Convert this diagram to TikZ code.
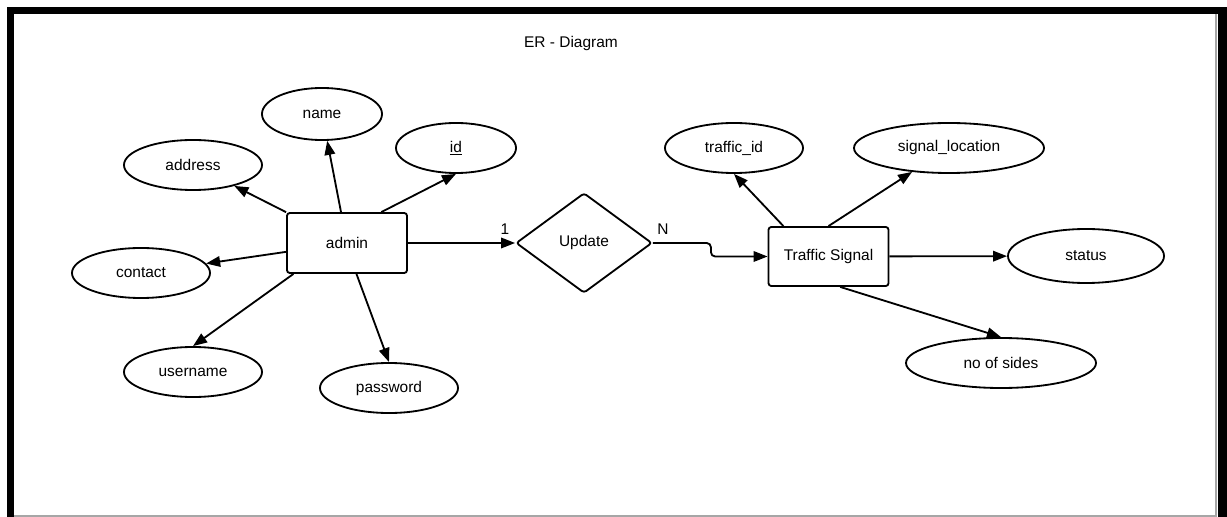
\documentclass[tikz,border=0pt]{standalone}
\usepackage{fontspec}
\setmainfont{Liberation Sans}
\usetikzlibrary{shapes.geometric,arrows.meta}

\begin{document}
\begin{tikzpicture}[x=0.025cm, y=-0.025cm,
    font=\fontsize{11}{13}\selectfont,
    entity/.style={rectangle, draw, line width=1.3pt, rounded corners=2pt, minimum width=3cm, minimum height=1.5cm},
    attr/.style={ellipse, draw, line width=1.3pt, minimum width=3.45cm, minimum height=1.25cm, inner sep=0pt},
    rel/.style={diamond, draw, line width=1.3pt, rounded corners=2pt, aspect=1.35, minimum width=3.4cm, minimum height=2.5cm, inner sep=0pt},
    link/.style={-{Triangle[length=10pt, width=7.5pt]}, line width=1.3pt}]
                    \useasboundingbox (0,0) rectangle (1227,517);
                    % frame
                    \fill (7,7) rectangle (1227,14);
                    \fill (7,7) rectangle (14,517);
                    \fill (1218,7) rectangle (1227,517);
                    \draw[gray!70, line width=0.8pt] (1216,14) -- (1216,516) -- (14,516);

                    \node (title) at (571,44) {ER - Diagram};

                    \node[entity] (admin) at (347,243) {admin};
                    \node[attr, minimum width=3cm, minimum height=1.3cm] (name) at (322,114) {name};
                    \node[attr, minimum width=3cm] (id) at (456,148) {\underline{id}};
                    \node[attr] (address) at (193,165) {address};
                    \node[attr] (contact) at (141,273) {contact};
                    \node[attr] (username) at (193,372) {username};
                    \node[attr] (password) at (389,388) {password};

                    \node[rel] (update) at (584,243) {Update};
                    \node (one) at (505,229) {1};
                    \node (many) at (663,229) {N};

                    \node[entity, minimum height=1.475cm] (signal) at (828.5,256.5) {Traffic Signal};
                    \node[attr] (trafficid) at (734,148) {traffic\_id};
                    \node[attr, minimum width=4.75cm] (location) at (949,148) {signal\_location};
                    \node[attr, minimum width=3.9cm, minimum height=1.35cm] (status) at (1086,256) {status};
                    \node[attr, minimum width=4.75cm] (sides) at (1001,363) {no of sides};

                    \draw[link] (admin) -- (name);
                    \draw[link] (admin.42) -- (id.south);
                    \draw[link] (admin) -- (address);
                    \draw[link] (admin) -- (contact);
                    \draw[link] (admin.210) -- (username.north);
                    \draw[link] (admin.-73) -- (password.north);

                    \draw[link] (admin) -- (update);
                    \draw[link, rounded corners=3pt] (update.east) -- ++(58,0) |- (signal.west);

                    \draw[link] (signal.146) -- (trafficid.south);
                    \draw[link] (signal.north) -- (location);
                    \draw[link] (signal) -- (status);
                    \draw[link] (signal.-69) -- (sides.north);
                \end{tikzpicture}
\end{document}
